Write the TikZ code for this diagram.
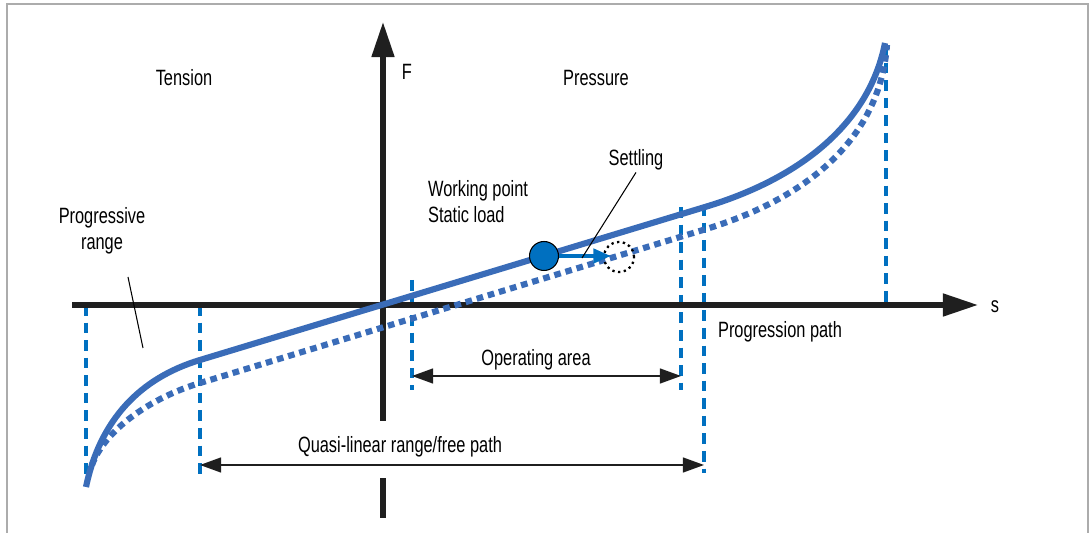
\documentclass[tikz,border=0pt]{standalone}
\usepackage{fontspec}
\setmainfont{Liberation Sans}[FakeStretch=0.74]
\usepackage{tikz}
\usetikzlibrary{arrows.meta,positioning}
\definecolor{curveblue}{RGB}{58,108,184}
\definecolor{markblue}{RGB}{0,112,192}

\begin{document}
\begin{tikzpicture}[x=0.02cm, y=-0.02cm, >=Latex, font=\fontsize{12.6}{14.8}\selectfont,
    axis/.style={line width=2.9pt, draw=black!88},
    limit/.style={draw=markblue, line width=2.1pt, dash pattern=on 6pt off 4pt},
    span/.style={line width=0.9pt, draw=black!88,
        {Triangle[length=12pt,width=8.5pt]}-{Triangle[length=12pt,width=8.5pt]}},
    spring/.style={draw=curveblue, line width=3.5pt},
    settled/.style={spring, dash pattern=on 3.8pt off 2.8pt},
    pointer/.style={line width=0.6pt},
    lbl/.style={inner sep=1pt}]

        \useasboundingbox (0,0) rectangle (1090,533);
        \draw[gray!65, line width=1.1pt] (7,533) -- (7,4) -- (1088,4) -- (1088,533);

        % Coordinates
        \coordinate (s0) at (72,305);
        \coordinate (s1) at (978,305);
        \coordinate (f0) at (383,518);
        \coordinate (f1) at (383,478);
        \coordinate (f2) at (383,421);
        \coordinate (f3) at (383,22);
        \coordinate (q1) at (200,465);
        \coordinate (q2) at (704,465);
        \coordinate (o1) at (412,376);
        \coordinate (o2) at (681,376);

        % Limits
        \draw[limit] (86,305) -- (86,480);
        \draw[limit] (200,305) -- (200,475);
        \draw[limit] (412,280) -- (412,390);
        \draw[limit] (681,207) -- (681,390);
        \draw[limit] (704,205) -- (704,473);
        \draw[limit] (886,45) -- (886,305);

        % Axes
        \draw[axis, -{Triangle[length=20pt,width=12.5pt]}] (s0) -- (s1);
        \draw[axis] (f0) -- (f1);
        \draw[axis, -{Triangle[length=20pt,width=12.5pt]}] (f2) -- (f3);

        % Curves
        \draw[settled] (92,465) .. controls (105,430) and (150,398) .. (200,383)
            -- (703,230) .. controls (813,197) and (880,135) .. (887,45);
        \draw[spring] (86,487) .. controls (100,420) and (140,378) .. (200,360)
            -- (705,207) .. controls (805,177) and (870,120) .. (885,43);

        % Nodes
        \node[lbl] (tension) at (184,78) {Tension};
        \node[lbl] (force) at (407,72) {F};
        \node[lbl] (pressure) at (596,78) {Pressure};
        \node[lbl] (travel) at (995,307) {s};
        \node[lbl, anchor=west, align=left] (wplbl) at (426,202) {Working point\\ Static load};
        \node[lbl] (settling) at (636,160) {Settling};
        \node[lbl, align=center] (progr) at (102,231) {Progressive\\ range};
        \node[lbl] (ppath) at (780,332) {Progression path};
        \node[lbl] (oparea) at (536,360) {Operating area};
        \node[lbl] (quasi) at (400,447) {Quasi-linear range/free path};

        \node[circle, draw=black, line width=0.6pt, fill=markblue, minimum size=0.58cm, inner sep=0pt] (wp) at (544,256) {};
        \node[circle, draw=black, line width=1.3pt, dotted, minimum size=0.6cm, inner sep=0pt] (ws) at (619,257) {};
        \coordinate (settle) at (611,256);
        \coordinate (sp) at (582,258);
        \coordinate (pr1) at (128,277);
        \coordinate (pr2) at (143,348);

        % Arrows
        \draw[markblue, line width=2.3pt, -{Triangle[length=10pt,width=8pt]}] (wp.east) -- (settle);
        \draw[pointer] (settling.south) -- (sp);
        \draw[pointer] (pr1) -- (pr2);
        \draw[span] (o1) -- (o2);
        \draw[span] (q1) -- (q2);

    \end{tikzpicture}
\end{document}
